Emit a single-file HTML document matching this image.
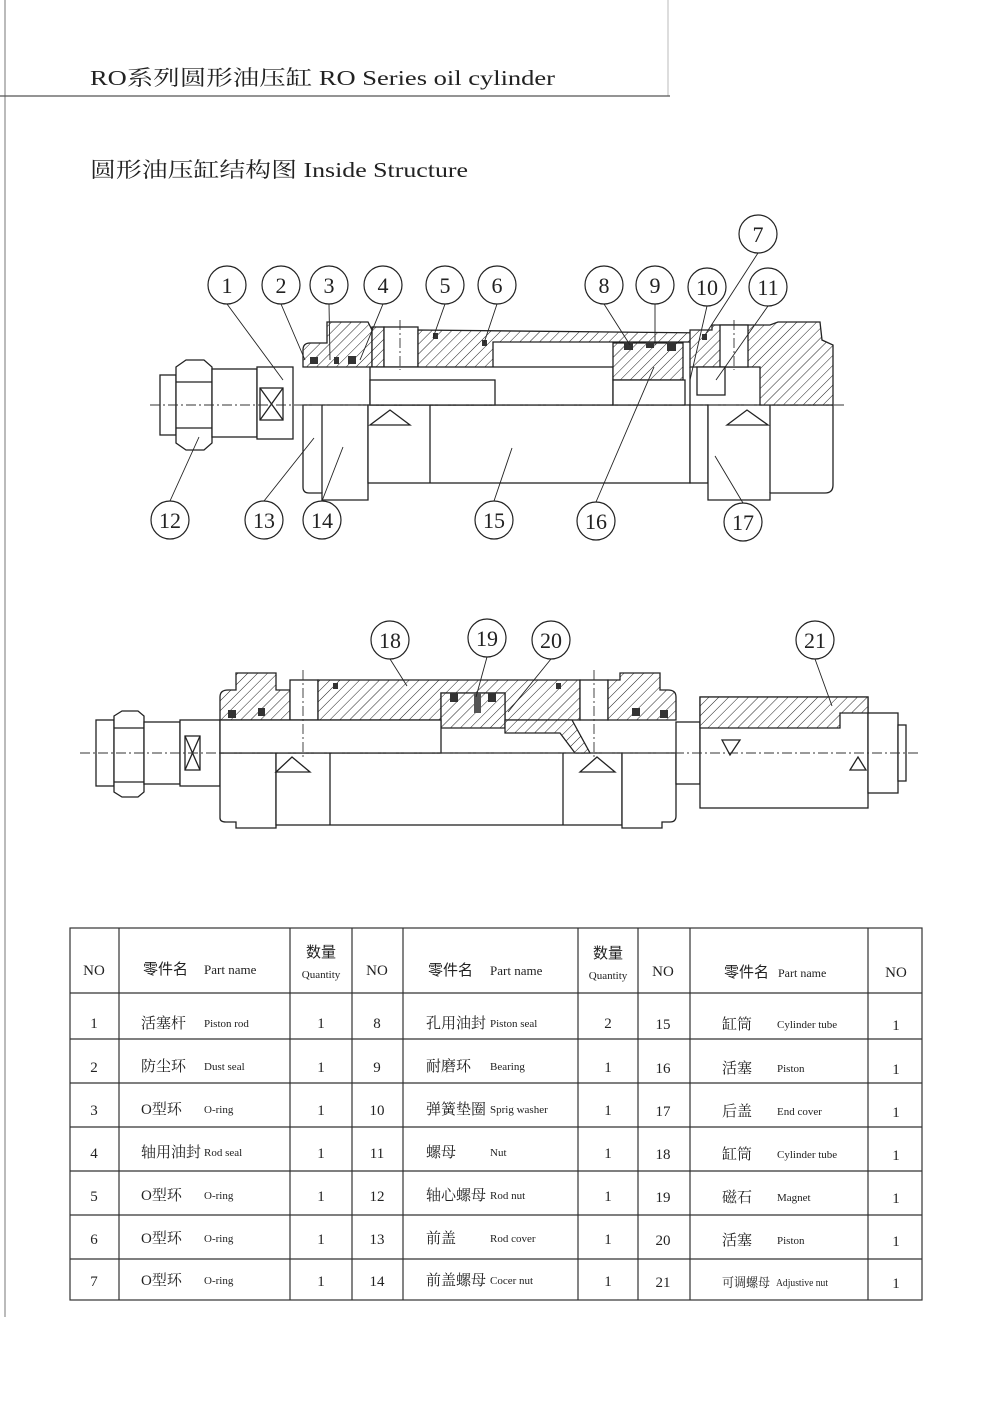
<!DOCTYPE html>
<html><head><meta charset="utf-8"><style>
html,body{margin:0;padding:0;background:#fff}
svg{display:block}
text{font-family:"Liberation Serif","Noto Serif CJK SC","Noto Sans CJK SC",serif;fill:#222}
.cn{font-family:"Liberation Sans","Noto Sans CJK SC",sans-serif}
.l{stroke:#222;stroke-width:1.3;fill:none}
.f{stroke:#222;stroke-width:1.3;fill:#fff}
.h{stroke:#222;stroke-width:1.3;fill:url(#hat)}
.c{stroke:#333;stroke-width:0.9;fill:none;stroke-dasharray:10 3 2 3}
.ld{stroke:#222;stroke-width:0.9;fill:none}
.b{stroke:#222;stroke-width:1.2;fill:#fff}
</style></head><body>
<svg width="1002" height="1417" viewBox="0 0 1002 1417" xmlns="http://www.w3.org/2000/svg">
<defs>
<pattern id="hat" width="7" height="7" patternUnits="userSpaceOnUse" patternTransform="rotate(45)">
<rect width="7" height="7" fill="#fff"/><line x1="0" y1="0" x2="0" y2="7" stroke="#222" stroke-width="1"/>
</pattern>
</defs>
<rect width="1002" height="1417" fill="#fff"/>
<line x1="5" y1="0" x2="5" y2="1317" stroke="#bbb" stroke-width="2"/>
<line x1="668" y1="0" x2="668" y2="96" stroke="#bbb" stroke-width="1"/>
<line x1="0" y1="96" x2="670" y2="96" stroke="#555" stroke-width="1.2"/>
<text x="90" y="85" font-size="21" textLength="465" lengthAdjust="spacingAndGlyphs">RO系列圆形油压缸  RO  Series oil cylinder</text>
<text x="90" y="177" font-size="21" textLength="378" lengthAdjust="spacingAndGlyphs">圆形油压缸结构图 Inside Structure</text>

<!-- ===== Diagram 1 ===== -->
<g>
<rect class="f" x="160" y="375" width="16" height="60"/>
<path class="f" d="M176 367 L186 360 L204 360 L212 367 L212 443 L204 450 L186 450 L176 443 Z"/>
<line class="l" x1="176" y1="382" x2="212" y2="382"/><line class="l" x1="176" y1="428" x2="212" y2="428"/>
<rect class="f" x="212" y="369" width="45" height="68"/>
<rect class="f" x="257" y="367" width="36" height="72"/>
<rect class="f" x="260" y="388" width="23" height="32"/>
<path class="l" d="M260 388 L283 420 M283 388 L260 420"/>
<path class="f" d="M303 405 L303 487 Q303 493 309 493 L322 493 L322 500 L368 500 L368 405 Z"/>
<line class="l" x1="322" y1="405" x2="322" y2="493"/>
<rect class="f" x="368" y="405" width="322" height="78"/>
<line class="l" x1="430" y1="405" x2="430" y2="483"/>
<path class="l" d="M370 425 L390 410 L410 425 Z"/>
<rect class="f" x="690" y="405" width="18" height="78"/>
<path class="f" d="M708 405 L708 500 L770 500 L770 493 L825 493 Q833 493 833 485 L833 405 Z"/>
<line class="l" x1="770" y1="405" x2="770" y2="493"/>
<path class="l" d="M727 425 L747 410 L768 425 Z"/>
<path class="h" d="M303 367 L303 350 Q303 343 310 343 L327 343 L327 322 L368 322 L372 330 L372 367 Z"/>
<rect class="h" x="372" y="327" width="12" height="40"/>
<rect class="f" x="384" y="327" width="34" height="40"/>
<path class="h" d="M418 330 L712 333 L712 342 L493 342 L493 380 L418 380 Z"/>
<rect class="f" x="370" y="367" width="243" height="38"/>
<rect class="f" x="370" y="380" width="125" height="25"/>
<path class="h" d="M613 343 L683 343 L683 380 L613 380 Z"/>
<rect class="f" x="613" y="380" width="72" height="25"/>
<path class="h" d="M690 330 L712 330 L712 325 L770 325 L778 322 L820 322 L822 340 L833 345 L833 405 L760 405 L760 367 L690 367 Z"/>
<rect class="f" x="720" y="325" width="28" height="42"/>
<rect class="f" x="697" y="367" width="28" height="28"/>
<line class="l" x1="690" y1="367" x2="690" y2="405"/>
<rect x="310" y="357" width="8" height="7" fill="#333"/><rect x="334" y="357" width="5" height="7" fill="#333"/>
<rect x="348" y="356" width="8" height="8" fill="#333"/><rect x="433" y="333" width="5" height="6" fill="#333"/>
<rect x="482" y="340" width="5" height="6" fill="#333"/><rect x="624" y="342" width="9" height="8" fill="#333"/>
<rect x="646" y="342" width="8" height="6" fill="#333"/><rect x="667" y="342" width="9" height="9" fill="#333"/>
<rect x="702" y="334" width="5" height="6" fill="#333"/>
<line class="c" x1="150" y1="405" x2="845" y2="405"/>
<line class="c" x1="400" y1="320" x2="400" y2="370"/><line class="c" x1="734" y1="320" x2="734" y2="370"/>
<path class="ld" d="M227 304 L283 380 M281 304 L305 360 M329 304 L330 360 M383 304 L360 360 M445 304 L433 338 M497 304 L484 343 M604 304 L630 345 M655 304 L655 345 M707 306 L690 380 M768 306 L716 380 M758 253 L705 335 M170 501 L199 437 M264 501 L314 438 M322 501 L343 447 M494 501 L512 448 M596 502 L654 367 M743 503 L715 456"/>
<g font-size="22" text-anchor="middle">
<circle class="b" cx="227" cy="285" r="19"/><text x="227" y="293">1</text>
<circle class="b" cx="281" cy="285" r="19"/><text x="281" y="293">2</text>
<circle class="b" cx="329" cy="285" r="19"/><text x="329" y="293">3</text>
<circle class="b" cx="383" cy="285" r="19"/><text x="383" y="293">4</text>
<circle class="b" cx="445" cy="285" r="19"/><text x="445" y="293">5</text>
<circle class="b" cx="497" cy="285" r="19"/><text x="497" y="293">6</text>
<circle class="b" cx="604" cy="285" r="19"/><text x="604" y="293">8</text>
<circle class="b" cx="655" cy="285" r="19"/><text x="655" y="293">9</text>
<circle class="b" cx="707" cy="287" r="19"/><text x="707" y="295">10</text>
<circle class="b" cx="768" cy="287" r="19"/><text x="768" y="295">11</text>
<circle class="b" cx="758" cy="234" r="19"/><text x="758" y="242">7</text>
<circle class="b" cx="170" cy="520" r="19"/><text x="170" y="528">12</text>
<circle class="b" cx="264" cy="520" r="19"/><text x="264" y="528">13</text>
<circle class="b" cx="322" cy="520" r="19"/><text x="322" y="528">14</text>
<circle class="b" cx="494" cy="520" r="19"/><text x="494" y="528">15</text>
<circle class="b" cx="596" cy="521" r="19"/><text x="596" y="529">16</text>
<circle class="b" cx="743" cy="522" r="19"/><text x="743" y="530">17</text>
</g>
</g>

<!-- ===== Diagram 2 ===== -->
<g>
<rect class="f" x="96" y="720" width="18" height="66"/>
<path class="f" d="M114 716 L122 711 L138 711 L144 716 L144 792 L138 797 L122 797 L114 792 Z"/>
<line class="l" x1="114" y1="728" x2="144" y2="728"/><line class="l" x1="114" y1="782" x2="144" y2="782"/>
<rect class="f" x="144" y="722" width="36" height="62"/>
<rect class="f" x="180" y="720" width="40" height="66"/>
<rect class="f" x="185" y="736" width="15" height="34"/><path class="l" d="M185 736 L200 770 M200 736 L185 770"/>
<path class="f" d="M220 753 L220 818 Q220 822 226 822 L236 822 L236 828 L276 828 L276 753 Z"/>
<rect class="f" x="276" y="753" width="346" height="72"/>
<line class="l" x1="330" y1="753" x2="330" y2="825"/><line class="l" x1="563" y1="753" x2="563" y2="825"/>
<path class="l" d="M276 772 L292 757 L310 772 Z M580 772 L597 757 L615 772 Z"/>
<path class="f" d="M622 753 L622 828 L662 828 L662 822 L670 822 Q676 822 676 816 L676 753 Z"/>
<rect class="f" x="676" y="722" width="24" height="62"/>
<rect class="f" x="700" y="697" width="168" height="111"/>
<rect class="f" x="868" y="713" width="30" height="80"/>
<rect class="f" x="898" y="725" width="8" height="56"/>
<path class="l" d="M722 740 L730 755 L740 740 Z M850 770 L858 757 L866 770 Z"/>
<path class="h" d="M220 720 L220 697 Q220 690 228 690 L236 690 L236 673 L276 673 L276 690 L290 690 L290 720 Z"/>
<rect class="f" x="290" y="680" width="28" height="40"/>
<path class="h" d="M318 680 L580 680 L580 720 L505 720 L505 693 L441 693 L441 720 L318 720 Z"/>
<path class="h" d="M441 693 L505 693 L505 728 L441 728 Z"/>
<path class="h" d="M505 720 L572 720 L590 753 L575 753 L560 733 L505 733 Z"/>
<rect class="f" x="580" y="680" width="28" height="40"/>
<path class="h" d="M608 680 L620 680 L620 673 L660 673 L660 690 L668 690 Q676 690 676 697 L676 720 L608 720 Z"/>
<path class="h" d="M700 697 L868 697 L868 713 L840 713 L840 728 L700 728 Z"/>
<rect class="f" x="220" y="720" width="221" height="33"/>
<rect x="474" y="693" width="7" height="20" fill="#555"/>
<rect x="450" y="693" width="8" height="9" fill="#333"/><rect x="488" y="693" width="8" height="9" fill="#333"/>
<rect x="228" y="710" width="8" height="8" fill="#333"/><rect x="258" y="708" width="7" height="8" fill="#333"/>
<rect x="632" y="708" width="8" height="8" fill="#333"/><rect x="660" y="710" width="8" height="8" fill="#333"/>
<rect x="333" y="683" width="5" height="6" fill="#333"/><rect x="556" y="683" width="5" height="6" fill="#333"/>
<line class="c" x1="80" y1="753" x2="920" y2="753"/>
<line class="c" x1="303" y1="670" x2="303" y2="760"/><line class="c" x1="594" y1="670" x2="594" y2="760"/>
<path class="ld" d="M390 659 L407 686 M487 657 L476 697 M551 659 L508 712 M815 659 L832 706"/>
<g font-size="22" text-anchor="middle">
<circle class="b" cx="390" cy="640" r="19"/><text x="390" y="648">18</text>
<circle class="b" cx="487" cy="638" r="19"/><text x="487" y="646">19</text>
<circle class="b" cx="551" cy="640" r="19"/><text x="551" y="648">20</text>
<circle class="b" cx="815" cy="640" r="19"/><text x="815" y="648">21</text>
</g>
</g>

<!-- ===== Table ===== -->
<g stroke="#333" stroke-width="1.2" fill="none">
<rect x="70" y="928" width="852" height="372"/>
<line x1="119" y1="928" x2="119" y2="1300"/><line x1="290" y1="928" x2="290" y2="1300"/>
<line x1="352" y1="928" x2="352" y2="1300"/><line x1="403" y1="928" x2="403" y2="1300"/>
<line x1="578" y1="928" x2="578" y2="1300"/><line x1="638" y1="928" x2="638" y2="1300"/>
<line x1="690" y1="928" x2="690" y2="1300"/><line x1="868" y1="928" x2="868" y2="1300"/>
<line x1="70" y1="993" x2="922" y2="993"/><line x1="70" y1="1039" x2="922" y2="1039"/>
<line x1="70" y1="1083" x2="922" y2="1083"/><line x1="70" y1="1127" x2="922" y2="1127"/>
<line x1="70" y1="1171" x2="922" y2="1171"/><line x1="70" y1="1215" x2="922" y2="1215"/>
<line x1="70" y1="1259" x2="922" y2="1259"/>
</g>
<g font-size="15">
<text x="94" y="975" text-anchor="middle">NO</text><text x="377" y="975" text-anchor="middle">NO</text>
<text x="663" y="976" text-anchor="middle">NO</text><text x="896" y="977" text-anchor="middle">NO</text>
<text x="143" y="974" class="cn">零件名</text><text x="204" y="974" font-size="13">Part name</text>
<text x="428" y="975" class="cn">零件名</text><text x="490" y="975" font-size="13">Part name</text>
<text x="724" y="977" class="cn">零件名</text><text x="778" y="977" font-size="12">Part name</text>
<text x="321" y="957" text-anchor="middle" class="cn">数量</text><text x="321" y="978" text-anchor="middle" font-size="11">Quantity</text>
<text x="608" y="958" text-anchor="middle" class="cn">数量</text><text x="608" y="979" text-anchor="middle" font-size="11">Quantity</text>
</g>
<g font-size="15">
<g text-anchor="middle">
<text x="94" y="1028">1</text><text x="94" y="1072">2</text><text x="94" y="1115">3</text><text x="94" y="1158">4</text><text x="94" y="1201">5</text><text x="94" y="1244">6</text><text x="94" y="1286">7</text>
<text x="321" y="1028">1</text><text x="321" y="1072">1</text><text x="321" y="1115">1</text><text x="321" y="1158">1</text><text x="321" y="1201">1</text><text x="321" y="1244">1</text><text x="321" y="1286">1</text>
<text x="377" y="1028">8</text><text x="377" y="1072">9</text><text x="377" y="1115">10</text><text x="377" y="1158">11</text><text x="377" y="1201">12</text><text x="377" y="1244">13</text><text x="377" y="1286">14</text>
<text x="608" y="1028">2</text><text x="608" y="1072">1</text><text x="608" y="1115">1</text><text x="608" y="1158">1</text><text x="608" y="1201">1</text><text x="608" y="1244">1</text><text x="608" y="1286">1</text>
<text x="663" y="1029">15</text><text x="663" y="1073">16</text><text x="663" y="1116">17</text><text x="663" y="1159">18</text><text x="663" y="1202">19</text><text x="663" y="1245">20</text><text x="663" y="1287">21</text>
<text x="896" y="1030">1</text><text x="896" y="1074">1</text><text x="896" y="1117">1</text><text x="896" y="1160">1</text><text x="896" y="1203">1</text><text x="896" y="1246">1</text><text x="896" y="1288">1</text>
</g>
<g class="cn">
<text x="141" y="1028">活塞杆</text><text x="141" y="1071">防尘环</text><text x="141" y="1114">O型环</text><text x="141" y="1157">轴用油封</text><text x="141" y="1200">O型环</text><text x="141" y="1243">O型环</text><text x="141" y="1285">O型环</text>
<text x="426" y="1028">孔用油封</text><text x="426" y="1071">耐磨环</text><text x="426" y="1114">弹簧垫圈</text><text x="426" y="1157">螺母</text><text x="426" y="1200">轴心螺母</text><text x="426" y="1243">前盖</text><text x="426" y="1285">前盖螺母</text>
<text x="722" y="1029">缸筒</text><text x="722" y="1073">活塞</text><text x="722" y="1116">后盖</text><text x="722" y="1159">缸筒</text><text x="722" y="1202">磁石</text><text x="722" y="1245">活塞</text><text x="722" y="1287" font-size="13" textLength="48" lengthAdjust="spacingAndGlyphs">可调螺母</text>
</g>
<g font-size="11">
<text x="204" y="1027">Piston rod</text><text x="204" y="1070">Dust seal</text><text x="204" y="1113">O-ring</text><text x="204" y="1156">Rod seal</text><text x="204" y="1199">O-ring</text><text x="204" y="1242">O-ring</text><text x="204" y="1284">O-ring</text>
<text x="490" y="1027">Piston seal</text><text x="490" y="1070">Bearing</text><text x="490" y="1113">Sprig washer</text><text x="490" y="1156">Nut</text><text x="490" y="1199">Rod nut</text><text x="490" y="1242">Rod cover</text><text x="490" y="1284">Cocer nut</text>
<text x="777" y="1028">Cylinder tube</text><text x="777" y="1072">Piston</text><text x="777" y="1115">End cover</text><text x="777" y="1158">Cylinder tube</text><text x="777" y="1201">Magnet</text><text x="777" y="1244">Piston</text><text x="776" y="1286" textLength="52" lengthAdjust="spacingAndGlyphs">Adjustive nut</text>
</g>
</g>
</svg>
</body></html>
